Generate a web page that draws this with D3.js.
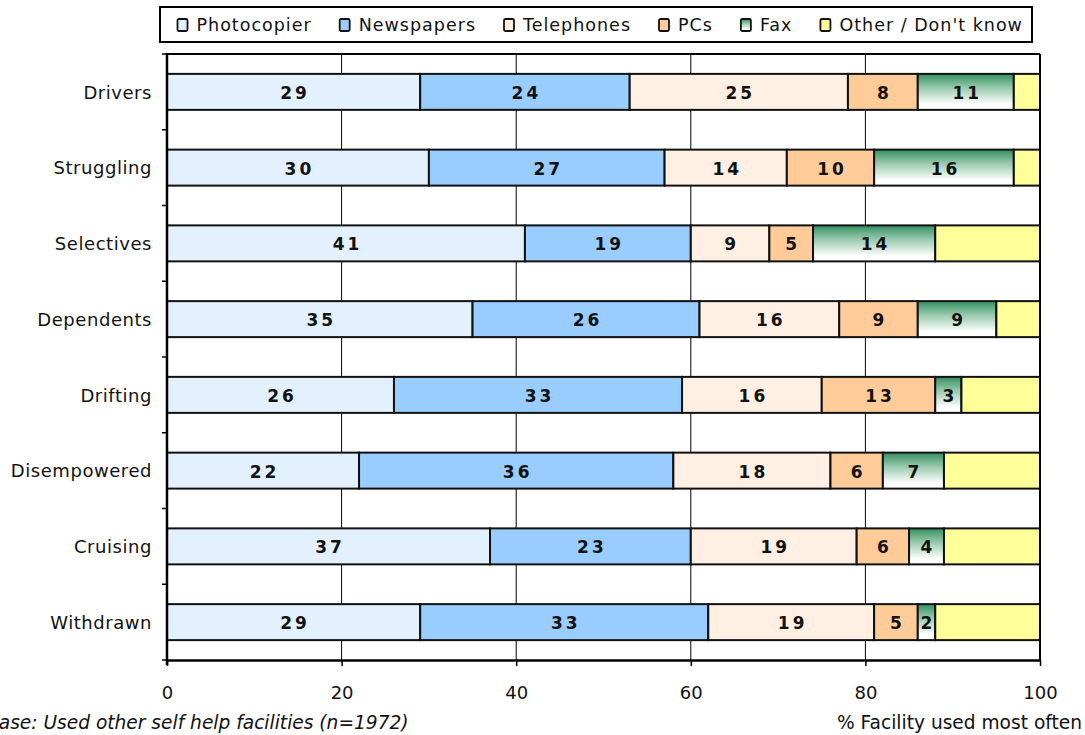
<!DOCTYPE html>
<html>
<head>
<meta charset="utf-8">
<script src="https://cdn.jsdelivr.net/npm/d3@7"></script>
<style>
  html, body { margin: 0; padding: 0; background: #fff; }
  svg { display: block; font-family: "DejaVu Sans", Verdana, sans-serif; }
</style>
</head>
<body>
<svg id="chart" width="1085" height="735"></svg>
<script>
// Segments of facility use for each customer segment (percent of row)
const categories = ["Drivers", "Struggling", "Selectives", "Dependents", "Drifting", "Disempowered", "Cruising", "Withdrawn"];
const photocopier = [29, 30, 41, 35, 26, 22, 37, 29];
const newspapers  = [24, 27, 19, 26, 33, 36, 23, 33];
const telephones  = [25, 14,  9, 16, 16, 18, 19, 19];
const pcs         = [ 8, 10,  5,  9, 13,  6,  6,  5];
const fax         = [11, 16, 14,  9,  3,  7,  4,  2];
const other       = [ 3,  3, 12,  5,  9, 11, 11, 12];

const seriesNames = ["Photocopier", "Newspapers", "Telephones", "PCs", "Fax", "Other / Don't know"];
const seriesValues = [photocopier, newspapers, telephones, pcs, fax, other];
const showLabel = [true, true, true, true, true, false];
const xTicks = [0, 20, 40, 60, 80, 100];

const fills = ["#e3f1ff", "#99ccff", "#fff0e3", "#ffcc99", "url(#faxGrad)", "#ffff99"];

const svg = d3.select("#chart");
const plotLeft = 167, plotRight = 1040, plotTop = 54, plotBottom = 660;

const defs = svg.append("defs");
const grad = defs.append("linearGradient").attr("id", "faxGrad")
  .attr("x1", 0).attr("y1", 0).attr("x2", 0).attr("y2", 1);
grad.append("stop").attr("offset", "0%").attr("stop-color", "#34905f");
grad.append("stop").attr("offset", "40%").attr("stop-color", "#9ccbb0");
grad.append("stop").attr("offset", "85%").attr("stop-color", "#ffffff");
grad.append("stop").attr("offset", "100%").attr("stop-color", "#ffffff");

const x = d3.scaleLinear().domain([0, 100]).range([plotLeft, plotRight]);
const y = d3.scaleBand().domain(categories).range([plotTop, plotBottom])
  .paddingInner(0.525).paddingOuter(0.2625);
const boundary = d3.scaleLinear().domain([0, categories.length]).range([plotTop, plotBottom]);

// vertical gridlines
svg.append("g").selectAll("line")
  .data(xTicks.slice(1, -1))
  .join("line")
  .attr("x1", d => x(d)).attr("x2", d => x(d))
  .attr("y1", plotTop).attr("y2", plotBottom)
  .attr("stroke", "#000").attr("stroke-width", 1);

// stacked data
const rows = categories.map((c, i) => {
  const r = { category: c };
  seriesNames.forEach((s, j) => { r[s] = seriesValues[j][i]; });
  return r;
});
const stacked = d3.stack().keys(seriesNames)(rows);

const layers = svg.append("g").selectAll("g")
  .data(stacked)
  .join("g")
  .attr("fill", (d, i) => fills[i]);

layers.selectAll("rect")
  .data(d => d)
  .join("rect")
  .attr("x", d => x(d[0]))
  .attr("width", d => x(d[1]) - x(d[0]))
  .attr("y", d => y(d.data.category))
  .attr("height", y.bandwidth())
  .attr("stroke", "#111")
  .attr("stroke-width", 2);

// value labels
layers.filter((d, i) => showLabel[i]).selectAll("text")
  .data(d => d)
  .join("text")
  .attr("x", d => (x(d[0]) + x(d[1])) / 2 + 1.5)
  .attr("y", d => y(d.data.category) + y.bandwidth() / 2 + 1)
  .attr("dy", "0.36em")
  .attr("text-anchor", "middle")
  .attr("font-size", 17)
  .attr("font-weight", "bold")
  .attr("letter-spacing", 3)
  .attr("fill", "#111")
  .text(d => d[1] - d[0]);

// plot frame: top and right edges
svg.append("line").attr("x1", plotLeft).attr("x2", plotRight).attr("y1", plotTop).attr("y2", plotTop)
  .attr("stroke", "#000").attr("stroke-width", 2);
svg.append("line").attr("x1", plotRight).attr("x2", plotRight).attr("y1", plotTop).attr("y2", plotBottom)
  .attr("stroke", "#000").attr("stroke-width", 2);

// x axis
const xAxis = svg.append("g").attr("transform", `translate(0,${plotBottom})`)
  .call(d3.axisBottom(x).tickValues(xTicks).tickSize(6).tickPadding(20).tickSizeOuter(0));
xAxis.select(".domain").attr("stroke-width", 2.5);
xAxis.selectAll(".tick line").attr("stroke-width", 1.5);
xAxis.selectAll("text").attr("font-size", 18).attr("fill", "#111")
  .attr("font-family", "DejaVu Sans, Verdana, sans-serif");

// y axis: category labels
const yAxis = svg.append("g").attr("transform", `translate(${plotLeft},1)`)
  .call(d3.axisLeft(y).tickSize(0).tickPadding(15));
yAxis.select(".domain").remove();
yAxis.selectAll("text").attr("font-size", 18).attr("letter-spacing", 0.55).attr("fill", "#111")
  .attr("font-family", "DejaVu Sans, Verdana, sans-serif");

// y axis line with ticks at the band boundaries
svg.append("line").attr("x1", plotLeft).attr("x2", plotLeft).attr("y1", plotTop - 1).attr("y2", plotBottom + 5)
  .attr("stroke", "#000").attr("stroke-width", 2.5);
svg.append("g").selectAll("line")
  .data(d3.range(categories.length + 1))
  .join("line")
  .attr("x1", plotLeft - 5).attr("x2", plotLeft)
  .attr("y1", d => boundary(d)).attr("y2", d => boundary(d))
  .attr("stroke", "#000").attr("stroke-width", 1.5);

// legend: swatches laid out one after another
const legend = svg.append("g");
legend.append("rect").attr("x", 160).attr("y", 7).attr("width", 872).attr("height", 35)
  .attr("fill", "#fff").attr("stroke", "#000").attr("stroke-width", 2);
let cursor = 177.5;
seriesNames.forEach((name, i) => {
  const item = legend.append("g").attr("transform", `translate(${cursor},19)`);
  item.append("rect")
    .attr("x", 0).attr("y", 0).attr("width", 10).attr("height", 12).attr("rx", 1.5)
    .attr("fill", fills[i]).attr("stroke", "#111").attr("stroke-width", 1.8);
  const t = item.append("text")
    .attr("x", 19).attr("y", 6).attr("dy", "0.36em")
    .attr("font-size", 17.5).attr("letter-spacing", 1).attr("fill", "#111")
    .text(name);
  cursor += 19 + t.node().getComputedTextLength() + 28;
});

// footnote and axis title
svg.append("text").attr("x", -14).attr("y", 729)
  .attr("font-size", 18.6).attr("font-style", "italic").attr("fill", "#111")
  .text("Base: Used other self help facilities (n=1972)");
svg.append("text").attr("x", 1082).attr("y", 729).attr("text-anchor", "end")
  .attr("font-size", 18.6).attr("fill", "#111")
  .text("% Facility used most often");
</script>
</body>
</html>
